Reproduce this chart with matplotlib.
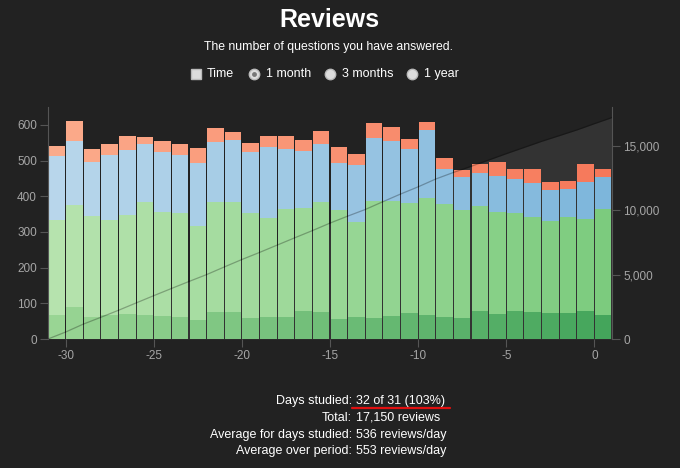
import numpy as np
import matplotlib
matplotlib.use("Agg")
import matplotlib.pyplot as plt
from matplotlib.colors import to_rgb
from matplotlib.ticker import FuncFormatter

plt.rcParams['font.family'] = ['Liberation Sans', 'DejaVu Sans']
plt.rcParams['axes.unicode_minus'] = False

# days relative to today, one bar per day
days = list(range(-31, 1))
# stacked review counts per day (bottom to top)
mature = [67, 90, 63, 68, 70, 67, 65, 63, 53, 77, 76, 60, 62, 63, 78, 77,
          57, 63, 58, 65, 73, 68, 61, 59, 78, 70, 78, 77, 73, 73, 78, 66]
young = [267, 285, 283, 266, 277, 316, 291, 291, 264, 307, 309, 293, 278, 301, 290, 306,
         304, 265, 328, 323, 309, 328, 316, 303, 296, 286, 274, 265, 257, 269, 259, 297]
new = [179, 180, 151, 181, 182, 164, 167, 162, 177, 168, 173, 170, 198, 169, 159, 164,
       132, 160, 176, 166, 150, 190, 99, 91, 91, 101, 96, 96, 87, 79, 102, 90]
learn = [28, 57, 34, 30, 39, 18, 31, 31, 41, 38, 21, 25, 31, 35, 30, 36,
         45, 30, 42, 39, 28, 22, 31, 21, 25, 38, 29, 39, 23, 23, 50, 23]

stats_labels = ["Days studied:", "Total:", "Average for days studied:", "Average over period:"]
stats_values = ["32 of 31 (103%)", "17,150 reviews", "536 reviews/day", "553 reviews/day"]
range_options = ["1 month", "3 months", "1 year"]

bg = '#222222'
grey = '#a6a6a6'

# colour ramps: older days lighter, recent days darker
ramps = {
    'mature': ('#99d594', '#44a55b'),
    'young': ('#b6e3ae', '#7ccb7e'),
    'new': ('#b8d6eb', '#7db6db'),
    'learn': ('#fbab8b', '#f6785a'),
}


def ramp(name, n):
    a = np.array(to_rgb(ramps[name][0]))
    b = np.array(to_rgb(ramps[name][1]))
    t = np.linspace(0, 1, n)
    return [tuple(a + (b - a) * ti) for ti in t]


n = len(days)
x = np.array(days) + 0.5

fig = plt.figure(figsize=(6.8, 4.68), dpi=100, facecolor=bg)
ax = fig.add_axes([48 / 680, 129 / 468, 564 / 680, 232 / 468])
ax.set_facecolor(bg)
ax2 = ax.twinx()

# cumulative area (right axis), drawn behind the bars
total = np.array(mature) + np.array(young) + np.array(new) + np.array(learn)
cum_x = np.array(days + [1])
cum_y = np.concatenate([[0], np.cumsum(total)])
ax2.fill_between(cum_x, 0, cum_y, color='#ffffff', alpha=0.08, lw=0, zorder=0)
ax2.set_ylim(0, 18000)
ax.set_zorder(ax2.get_zorder() + 1)
ax.patch.set_visible(False)

bottom = np.zeros(n)
for name, vals in [('mature', mature), ('young', young), ('new', new), ('learn', learn)]:
    ax.bar(x, vals, width=0.93, bottom=bottom, color=ramp(name, n), lw=0, zorder=2)
    bottom += np.array(vals)

# cumulative line on top of bars, scaled into left axis units
ax.plot(cum_x, cum_y * 650 / 18000, color='#000000', alpha=0.28, lw=0.9, zorder=3)

ax.set_xlim(-31, 1)
ax.set_ylim(0, 650)
ax.set_xticks(range(-30, 1, 5))
ax.set_yticks(range(0, 601, 100))
ax2.set_yticks([0, 5000, 10000, 15000])
ax2.yaxis.set_major_formatter(FuncFormatter(lambda v, p: f"{int(v):,}"))

for a in (ax, ax2):
    for s in a.spines.values():
        s.set_visible(False)
    a.tick_params(colors='#555555', labelcolor=grey, labelsize=8.5, length=6, width=0.8, pad=2)
ax.spines['left'].set_visible(True)
ax.spines['left'].set_color('#555555')
ax2.spines['right'].set_visible(True)
ax2.spines['right'].set_color('#555555')

# overlay in pixel coordinates for the page text
ui = fig.add_axes([0, 0, 1, 1], zorder=10)
ui.set_xlim(0, 680)
ui.set_ylim(468, 0)
ui.axis('off')
ui.patch.set_visible(False)

ui.text(329, 20, "Reviews", color='white', fontsize=18, fontweight='bold', ha='center', va='center')
ui.text(329, 47, "The number of questions you have answered.", color='white', fontsize=8.8,
        ha='center', va='center')

ui.plot([196], [74], marker='s', ms=7, color='#dddddd', mec='#bbbbbb')
ui.text(207, 74, "Time", color='white', fontsize=9, va='center')
radio_x = [254, 330, 412]
for i, (rx, lab) in enumerate(zip(radio_x, range_options)):
    ui.plot([rx], [74], marker='o', ms=7.5, color='#dddddd', mec='#bbbbbb')
    if i == 0:
        ui.plot([rx], [74], marker='o', ms=3.5, color='#777777', mec='none')
    ui.text(rx + 12, 74, lab, color='white', fontsize=9, va='center')

rows_y = [401, 418, 435, 451]
for lab, val, ry in zip(stats_labels, stats_values, rows_y):
    ui.text(352, ry, lab, color='white', fontsize=9, ha='right', va='center')
    ui.text(356, ry, val, color='white', fontsize=9, ha='left', va='center')
ui.plot([352, 450], [407.5, 407.5], color='#e01010', lw=1.6, solid_capstyle='round')

fig.savefig("out.png", dpi=100, facecolor=bg)
